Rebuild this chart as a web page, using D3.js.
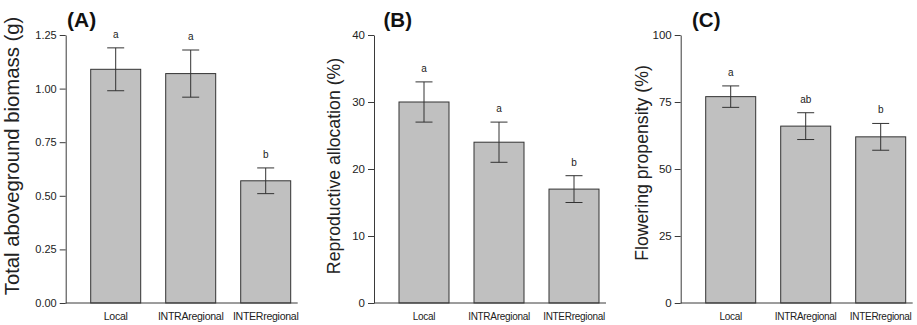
<!DOCTYPE html>
<html>
<head>
<meta charset="utf-8">
<script src="https://cdn.jsdelivr.net/npm/d3@7"></script>
<style>
  body { margin: 0; background: #fff; }
  svg { display: block; font-family: "Liberation Sans", Arial, sans-serif; }
  .axis path, .axis line { stroke: #3a3a3a; }
  .axis text { fill: #222; }
</style>
</head>
<body>
<svg id="chart" width="917" height="325"></svg>
<script>
const categories = ["Local", "INTRAregional", "INTERregional"];

// (A) biomass
const biomassMean = [1.09, 1.07, 0.57];
const biomassLow = [0.99, 0.96, 0.51];
const biomassHigh = [1.19, 1.18, 0.63];
const biomassLetters = ["a", "a", "b"];
const biomassTicks = [0, 0.25, 0.5, 0.75, 1.0, 1.25];

// (B) reproductive allocation
const allocMean = [30, 24, 17];
const allocLow = [27, 21, 15];
const allocHigh = [33, 27, 19];
const allocLetters = ["a", "a", "b"];
const allocTicks = [0, 10, 20, 30, 40];

// (C) flowering propensity
const flowerMean = [77, 66, 62];
const flowerLow = [73, 61, 57];
const flowerHigh = [81, 71, 67];
const flowerLetters = ["a", "ab", "b"];
const flowerTicks = [0, 25, 50, 75, 100];

const svg = d3.select("#chart");
const plotTop = 35, plotBottom = 303;

const panels = [
    { tag: "(A)", title: "Total aboveground biomass (g)", mean: biomassMean, low: biomassLow, high: biomassHigh,
      letters: biomassLetters, ticks: biomassTicks, fmt: d3.format(".2f"),
      x0: 65.7, titleX: 19, titleY: 156, titleSize: 20.3, tickSize: 11, catSize: 10.6, tagX: 67, tagSize: 21 },
    { tag: "(B)", title: "Reproductive allocation (%)", mean: allocMean, low: allocLow, high: allocHigh,
      letters: allocLetters, ticks: allocTicks, fmt: d3.format("d"),
      x0: 374, titleX: 339.5, titleY: 166, titleSize: 17.7, tickSize: 11.5, catSize: 10, tagX: 383.5, tagSize: 20.5 },
    { tag: "(C)", title: "Flowering propensity (%)", mean: flowerMean, low: flowerLow, high: flowerHigh,
      letters: flowerLetters, ticks: flowerTicks, fmt: d3.format("d"),
      x0: 680.7, titleX: 648, titleY: 163, titleSize: 17.7, tickSize: 11.5, catSize: 10, tagX: 692, tagSize: 20.5 }
];

panels.forEach(p => {
    const g = svg.append("g");
    const data = categories.map((c, i) => ({ cat: c, mean: p.mean[i], low: p.low[i], high: p.high[i], letter: p.letters[i] }));

    const x = d3.scaleBand().domain(categories).range([p.x0, p.x0 + 250])
        .paddingInner(1 / 3).paddingOuter(1 / 3);
    const y = d3.scaleLinear().domain([0, d3.max(p.ticks)]).range([plotBottom, plotTop]);

    // y axis
    g.append("g")
        .attr("class", "axis")
        .attr("transform", `translate(${p.x0},0)`)
        .call(d3.axisLeft(y).tickValues(p.ticks).tickFormat(p.fmt).tickSize(6).tickSizeOuter(0).tickPadding(3))
        .call(a => a.selectAll("text").style("font-size", p.tickSize + "px"));

    // bars
    g.selectAll(".bar").data(data).enter().append("rect")
        .attr("class", "bar")
        .attr("x", d => x(d.cat))
        .attr("y", d => y(d.mean))
        .attr("width", x.bandwidth())
        .attr("height", d => y(0) - y(d.mean))
        .attr("fill", "#c0c0c0")
        .attr("stroke", "#333")
        .attr("stroke-width", 1);

    // x axis line
    g.append("line")
        .attr("x1", p.x0).attr("x2", p.x0 + 232)
        .attr("y1", y(0)).attr("y2", y(0))
        .attr("stroke", "#3a3a3a");

    // error bars
    const cx = d => x(d.cat) + x.bandwidth() / 2;
    const err = g.selectAll(".err").data(data).enter().append("g").attr("class", "err")
        .attr("stroke", "#333").attr("stroke-width", 1);
    err.append("line").attr("x1", cx).attr("x2", cx).attr("y1", d => y(d.low)).attr("y2", d => y(d.high));
    err.append("line").attr("x1", d => cx(d) - 8.5).attr("x2", d => cx(d) + 8.5).attr("y1", d => y(d.high)).attr("y2", d => y(d.high));
    err.append("line").attr("x1", d => cx(d) - 8.5).attr("x2", d => cx(d) + 8.5).attr("y1", d => y(d.low)).attr("y2", d => y(d.low));

    // significance letters
    g.selectAll(".letter").data(data).enter().append("text")
        .attr("x", cx)
        .attr("y", d => y(d.high) - 10)
        .attr("text-anchor", "middle")
        .style("font-size", "10px")
        .attr("fill", "#222")
        .text(d => d.letter);

    // category labels
    g.selectAll(".cat").data(data).enter().append("text")
        .attr("x", cx)
        .attr("y", 320)
        .attr("text-anchor", "middle")
        .style("font-size", p.catSize + "px")
        .style("letter-spacing", "-0.3px")
        .attr("fill", "#222")
        .text(d => d.cat);

    // y title
    g.append("text")
        .attr("transform", `translate(${p.titleX},${p.titleY}) rotate(-90)`)
        .attr("text-anchor", "middle")
        .style("font-size", p.titleSize + "px")
        .attr("fill", "#222")
        .text(p.title);

    // panel tag
    g.append("text")
        .attr("x", p.tagX)
        .attr("y", 27)
        .style("font-size", p.tagSize + "px")
        .style("font-weight", "bold")
        .attr("fill", "#111")
        .text(p.tag);
});
</script>
</body>
</html>
